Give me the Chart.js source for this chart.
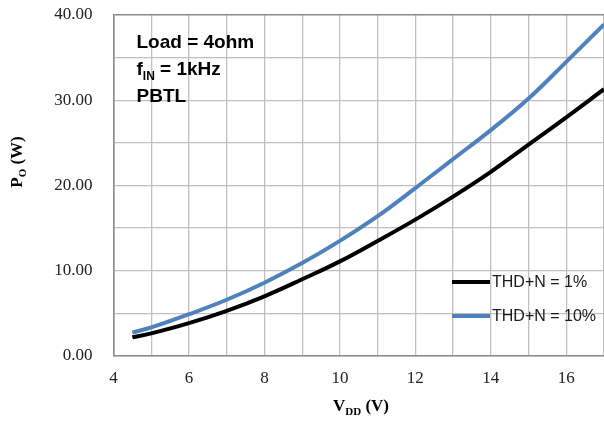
<!DOCTYPE html>
<html>
<head>
<meta charset="utf-8">
<script src="https://cdn.jsdelivr.net/npm/chart.js@4.4.1/dist/chart.umd.min.js"></script>
<style>
  html, body { margin: 0; padding: 0; background: #fff; }
  #wrap { width: 604px; height: 421px; }
</style>
</head>
<body>
<div id="wrap"><canvas id="po-chart" width="604" height="421"></canvas></div>
<script>
// Output power vs supply voltage
const vdd = [4.5, 5, 6, 7, 8, 9, 10, 11, 12, 13, 14, 15, 16, 17];
const thd1 = [2.2, 2.65, 3.85, 5.3, 7.0, 9.0, 11.1, 13.5, 16.0, 18.7, 21.6, 24.8, 28.0, 31.3];
const thd10 = [2.75, 3.35, 4.9, 6.6, 8.6, 10.9, 13.5, 16.4, 19.7, 23.1, 26.5, 30.2, 34.5, 38.9];
const seriesLabels = ['THD+N = 1%', 'THD+N = 10%'];
const seriesColors = ['#000000', '#4f81bd'];

const toPoints = ys => vdd.map((x, i) => ({ x: x, y: ys[i] }));

const serif = '"Liberation Serif", "Times New Roman", serif';
const sans = '"Liberation Sans", Arial, sans-serif';

// draw "main" + subscript + rest, starting at x
const subText = (ctx, x, y, main, sub, rest, size) => {
  ctx.font = 'bold ' + size + 'px ' + ctx._fam;
  ctx.fillText(main, x, y);
  x += ctx.measureText(main).width;
  ctx.font = 'bold ' + Math.round(size * 0.65) + 'px ' + ctx._fam;
  ctx.fillText(sub, x, y + size * 0.25);
  x += ctx.measureText(sub).width;
  ctx.font = 'bold ' + size + 'px ' + ctx._fam;
  ctx.fillText(rest, x, y);
};

const subWidth = (ctx, main, sub, rest, size) => {
  ctx.font = 'bold ' + size + 'px ' + ctx._fam;
  let w = ctx.measureText(main).width + ctx.measureText(rest).width;
  ctx.font = 'bold ' + Math.round(size * 0.65) + 'px ' + ctx._fam;
  return w + ctx.measureText(sub).width;
};

const extras = {
  id: 'extras',
  afterDraw(chart) {
    const ctx = chart.ctx;
    const area = chart.chartArea;
    ctx.save();
    ctx.fillStyle = '#000';
    ctx.textBaseline = 'alphabetic';
    ctx.textAlign = 'left';

    // note block, top-left of the plot
    ctx._fam = sans;
    ctx.font = 'bold 19px ' + sans;
    ctx.fillText('Load = 4ohm', area.left + 23, 48);
    subText(ctx, area.left + 23, 75, 'f', 'IN', ' = 1kHz', 19);
    ctx.font = 'bold 19px ' + sans;
    ctx.fillText('PBTL', area.left + 23, 102);

    // legend inside plot
    const ys = [282, 316];
    chart.data.datasets.forEach((ds, i) => {
      ctx.strokeStyle = ds.borderColor;
      ctx.lineWidth = 4;
      ctx.beginPath();
      ctx.moveTo(452, ys[i]);
      ctx.lineTo(490, ys[i]);
      ctx.stroke();
      ctx.font = '16px ' + sans;
      ctx.fillStyle = '#1a1a1a';
      ctx.textBaseline = 'middle';
      ctx.fillText(ds.label, 492, ys[i] + 1);
    });

    // axis titles
    ctx.fillStyle = '#000';
    ctx.textBaseline = 'alphabetic';
    ctx._fam = serif;
    const xw = subWidth(ctx, 'V', 'DD', ' (V)', 17);
    subText(ctx, 361 - xw / 2, 411, 'V', 'DD', ' (V)', 17);

    ctx.translate(22, 162);
    ctx.rotate(-Math.PI / 2);
    const yw = subWidth(ctx, 'P', 'O', ' (W)', 17);
    subText(ctx, -yw / 2, 0, 'P', 'O', ' (W)', 17);
    ctx.restore();
  },
};

new Chart(document.getElementById('po-chart'), {
  type: 'line',
  data: {
    datasets: [
      {
        label: seriesLabels[0],
        data: toPoints(thd1),
        borderColor: seriesColors[0],
        backgroundColor: seriesColors[0],
        borderWidth: 4,
        pointRadius: 0,
        tension: 0.4,
      },
      {
        label: seriesLabels[1],
        data: toPoints(thd10),
        borderColor: seriesColors[1],
        backgroundColor: seriesColors[1],
        borderWidth: 4,
        pointRadius: 0,
        tension: 0.4,
      },
    ],
  },
  options: {
    responsive: false,
    animation: false,
    layout: {
      padding: { top: 15, right: 0, bottom: 0, left: 0 },
    },
    plugins: {
      legend: { display: false },
      tooltip: { enabled: false },
    },
    scales: {
      x: {
        type: 'linear',
        min: 4,
        max: 17,
        afterFit: axis => {
          axis.height = 65;
          axis.paddingLeft = 0;
          axis.paddingRight = 0;
        },
        grid: { color: '#c0c0c0', lineWidth: 1.3, drawTicks: false },
        border: { color: '#8a8a8a', width: 1.6 },
        ticks: {
          stepSize: 1,
          padding: 12,
          autoSkip: false,
          maxRotation: 0,
          color: '#222',
          font: { family: serif, size: 17 },
          callback: v => (v % 2 === 0 && v <= 16 ? String(v) : ''),
        },
      },
      y: {
        min: 0,
        max: 40,
        afterFit: axis => {
          axis.width = 113.5;
          axis.paddingTop = 0;
          axis.paddingBottom = 0;
        },
        grid: {
          color: c => (c.tick && c.tick.value === 40 ? '#8a8a8a' : '#c0c0c0'),
          lineWidth: c => (c.tick && c.tick.value === 40 ? 1.6 : 1.3),
          drawTicks: false,
        },
        border: { color: '#8a8a8a', width: 1.6 },
        ticks: {
          stepSize: 5,
          padding: 21,
          autoSkip: false,
          color: '#222',
          font: { family: serif, size: 17 },
          callback: v => (v % 10 === 0 ? v.toFixed(2) : ''),
        },
      },
    },
  },
  plugins: [extras],
});
</script>
</body>
</html>
